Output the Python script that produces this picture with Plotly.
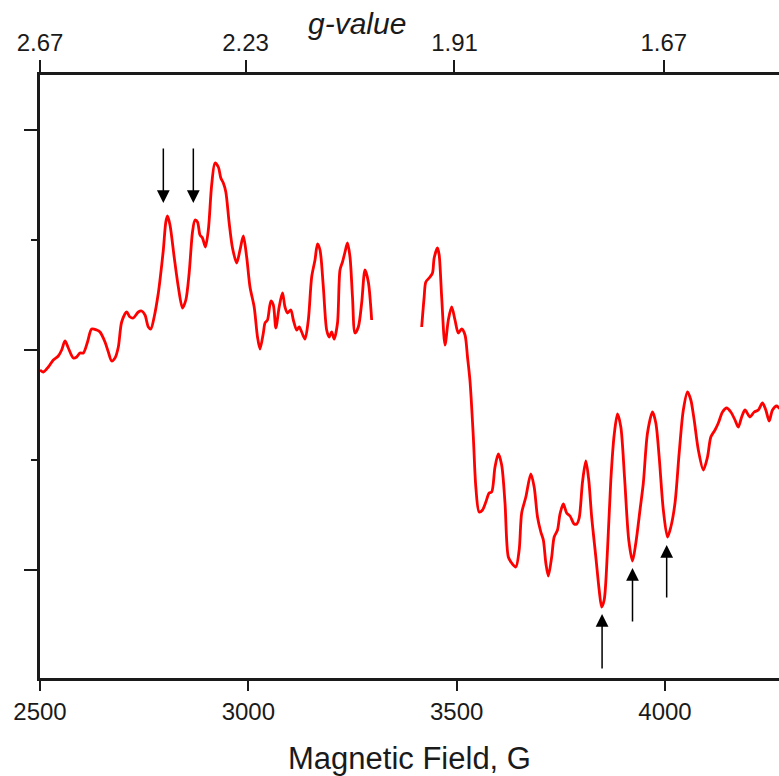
import plotly.graph_objects as go

# ---- data (field in Gauss, EPR derivative signal in arbitrary units) ----
field_low = [2500, 2508, 2520, 2532, 2544, 2552, 2560, 2568, 2580, 2588, 2596, 2604, 2614, 2624, 2636,
             2644, 2656, 2664, 2672, 2680, 2688, 2696, 2708, 2716, 2724, 2736, 2744, 2752, 2760, 2766,
             2774, 2784, 2788, 2796, 2802, 2806, 2812, 2822, 2832, 2842, 2850, 2858, 2866, 2872, 2878,
             2884, 2890, 2897, 2904, 2912, 2920, 2928, 2934, 2940, 2946, 2954, 2962, 2972, 2980, 2988,
             2996, 3004, 3014, 3022, 3028, 3036, 3040, 3046, 3054, 3060, 3066, 3074, 3082, 3088, 3094,
             3102, 3108, 3116, 3122, 3128, 3136, 3144, 3152, 3160, 3166, 3172, 3180, 3188, 3194, 3200,
             3206, 3214, 3220, 3226, 3232, 3238, 3244, 3250, 3256, 3264, 3272, 3280, 3288, 3296]
signal_low = [-20, -22, -17, -10, -6, 0, 9, 2, -8, -7, -3, -3, 8, 21, 20,
              18, 8, -2, -11, -8, 3, 28, 38, 33, 32, 38, 39, 35, 23, 21,
              33, 57, 70, 100, 128, 134, 125, 93, 63, 42, 50, 77, 118, 130, 128,
              115, 112, 103, 120, 165, 187, 183, 172, 167, 158, 127, 102, 87, 100, 114,
              93, 63, 43, 13, 1, 17, 27, 30, 49, 45, 22, 43, 57, 43, 37,
              40, 30, 20, 23, 18, 11, 30, 73, 90, 106, 100, 63, 20, 13, 18,
              11, 27, 80, 88, 98, 107, 93, 53, 17, 23, 47, 80, 68, 30]

field_high = [3416, 3422, 3426, 3436, 3442, 3446, 3454, 3458, 3464, 3472, 3480, 3488, 3496, 3504, 3512,
              3520, 3526, 3532, 3540, 3546, 3554, 3562, 3570, 3578, 3584, 3592, 3600, 3608, 3616, 3624,
              3632, 3642, 3650, 3656, 3666, 3678, 3686, 3694, 3702, 3708, 3714, 3720, 3728, 3734, 3742,
              3748, 3756, 3764, 3772, 3782, 3788, 3794, 3802, 3810, 3817, 3824, 3834, 3842, 3848, 3854,
              3862, 3870, 3878, 3886, 3894, 3903, 3913, 3922, 3930, 3940, 3948, 3958, 3970, 3978, 3986,
              3996, 4006, 4014, 4024, 4034, 4044, 4054, 4062, 4070, 4080, 4092, 4102, 4110, 4120, 4128,
              4138, 4148, 4158, 4168, 4176, 4184, 4192, 4204, 4214, 4224, 4234, 4242, 4250, 4258, 4268,
              4274, 4282]
signal_high = [23, 53, 68, 73, 77, 92, 102, 95, 53, 5, 30, 43, 30, 17, 21,
               15, -7, -31, -87, -137, -162, -160, -152, -143, -142, -117, -104, -115, -153, -207,
               -213, -217, -200, -163, -147, -124, -137, -167, -182, -190, -213, -226, -207, -187, -180,
               -164, -154, -163, -166, -174, -174, -168, -132, -111, -130, -167, -207, -240, -257, -250,
               -200, -130, -85, -64, -77, -128, -190, -211, -193, -160, -133, -83, -62, -73, -107,
               -160, -187, -177, -153, -103, -60, -42, -50, -70, -100, -120, -107, -87, -80, -73,
               -62, -58, -62, -70, -77, -67, -60, -67, -62, -60, -53, -60, -71, -60, -56,
               -58, -60]

# bottom-axis ticks (Gauss) and top-axis g-value labels
field_ticks = [2500, 3000, 3500, 4000]
g_labels = ["2.67", "2.23", "1.91", "1.67"]
HNU_OVER_MUB = 6675.0  # g * B (G), from microwave frequency
g_tick_pos = [HNU_OVER_MUB / float(g) for g in g_labels]

# marker arrows: field position, tip (head) and tail signal values
down_arrow_field = [2796, 2868]
down_arrow_tip = [147, 147]
down_arrow_tail = [203, 203]
up_arrow_field = [3849, 3922, 4004]
up_arrow_tip = [-264, -218, -195]
up_arrow_tail = [-320, -273, -249]

X_RANGE = [2500, 4273.6]
Y_RANGE = [-328, 275]

FONT = "Liberation Sans, Arial, sans-serif"
AXC = "#1a1a1a"

fig = go.Figure()
fig.add_trace(go.Scatter(
    x=field_low + [None] + field_high,
    y=signal_low + [None] + signal_high,
    mode="lines", connectgaps=False,
    line=dict(color="#ff0000", width=2.8, shape="spline", smoothing=0.8),
    hoverinfo="skip", showlegend=False))
# invisible trace so the top (g-value) axis is drawn
fig.add_trace(go.Scatter(x=[X_RANGE[0]], y=[0], xaxis="x2", mode="markers",
                         marker=dict(opacity=0), hoverinfo="skip", showlegend=False))

annotations = []
for f, tip, tail in zip(down_arrow_field + up_arrow_field,
                        down_arrow_tip + up_arrow_tip,
                        down_arrow_tail + up_arrow_tail):
    annotations.append(dict(x=f, y=tip, ax=f, ay=tail, xref="x", yref="y", axref="x", ayref="y",
                            text="", showarrow=True, arrowhead=2, arrowsize=1.7,
                            arrowwidth=1.5, arrowcolor="black"))
annotations.append(dict(x=0.429, y=1.086, xref="paper", yref="paper", text="<i>g-value</i>",
                        showarrow=False, xanchor="center", yanchor="middle",
                        font=dict(family=FONT, size=30, color=AXC)))

fig.update_layout(
    width=779, height=776,
    margin=dict(l=40, r=0, t=75, b=98, autoexpand=False),
    paper_bgcolor="white", plot_bgcolor="white",
    font=dict(family=FONT, color=AXC),
    annotations=annotations,
    xaxis=dict(range=X_RANGE, tickvals=field_ticks, ticks="outside", ticklen=10, tickwidth=2,
               tickcolor=AXC, showline=True, linewidth=2.5, linecolor=AXC, showgrid=False,
               zeroline=False, automargin=False, tickfont=dict(size=24, family=FONT, color=AXC),
               title=dict(text="Magnetic Field, G", font=dict(size=31, family=FONT, color=AXC),
                          standoff=31)),
    xaxis2=dict(range=X_RANGE, overlaying="x", side="top", anchor="y", tickvals=g_tick_pos,
                ticktext=g_labels, ticks="outside", ticklen=12, tickwidth=2, tickcolor=AXC,
                showline=True, linewidth=2.5, linecolor=AXC, showgrid=False, zeroline=False,
                automargin=False, tickfont=dict(size=24, family=FONT, color=AXC)),
    yaxis=dict(range=Y_RANGE, tick0=0, dtick=220, ticks="outside", ticklen=13, tickwidth=2,
               tickcolor=AXC, showticklabels=False, showline=True, linewidth=2.5, linecolor=AXC,
               showgrid=False, zeroline=False, automargin=False,
               minor=dict(tick0=0, dtick=110, ticks="outside", ticklen=6, tickwidth=2,
                          tickcolor=AXC, showgrid=False)),
)

fig.write_html("out.html", config={"displayModeBar": False},
               post_script="document.body.style.margin='0';document.body.style.overflow='hidden';")
